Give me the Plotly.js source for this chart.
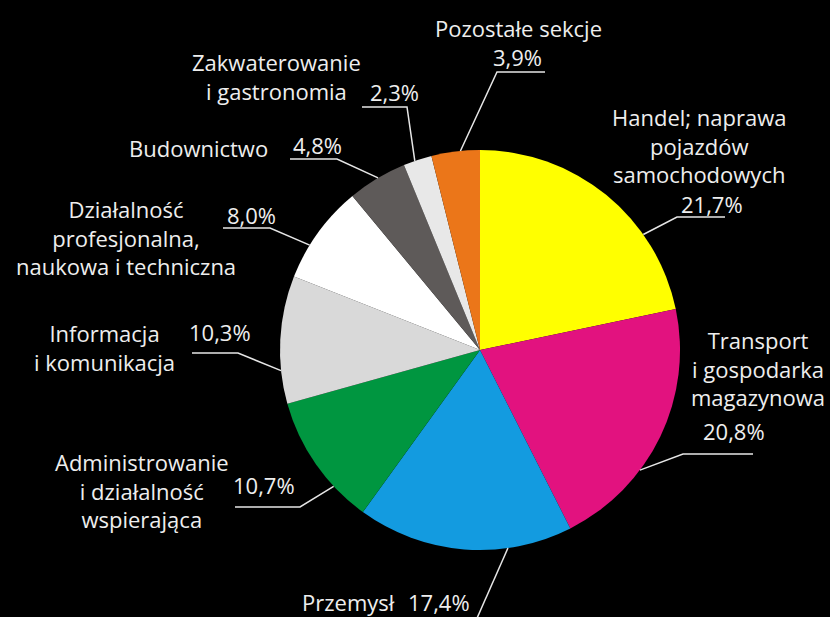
<!DOCTYPE html>
<html><head><meta charset="utf-8">
<script src="https://cdn.plot.ly/plotly-3.0.1.min.js"></script>
<style>html,body{margin:0;padding:0;background:#000;}#chart{width:830px;height:617px;}</style>
</head><body><div id="chart"></div>
<script>
// ---- data ----
const sectors = ["Handel; naprawa pojazdów samochodowych","Transport i gospodarka magazynowa","Przemysł","Administrowanie i działalność wspierająca","Informacja i komunikacja","Działalność profesjonalna, naukowa i techniczna","Budownictwo","Zakwaterowanie i gastronomia","Pozostałe sekcje"];
const labelLines = [
  ["Handel; naprawa","pojazdów","samochodowych"],
  ["Transport","i gospodarka","magazynowa"],
  ["Przemysł"],
  ["Administrowanie","i działalność","wspierająca"],
  ["Informacja","i komunikacja"],
  ["Działalność","profesjonalna,","naukowa i techniczna"],
  ["Budownictwo"],
  ["Zakwaterowanie","i gastronomia"],
  ["Pozostałe sekcje"]
];
const shares = [21.7, 20.8, 17.4, 10.7, 10.3, 8.0, 4.8, 2.3, 3.9];
const shareLabels = ["21,7%","20,8%","17,4%","10,7%","10,3%","8,0%","4,8%","2,3%","3,9%"];
const colors = ["#FFFF00","#E2127F","#139BE0","#009640","#D9D9D9","#FFFFFF","#5E5A59","#E8E8E8","#EB7619"];

// ---- layout helpers (pixels) ----
const W = 830, H = 617;
const CX = 480, CY = 350, R = 200;
const px = x => x / W, py = y => 1 - y / H;

// per-label layout: leader touch point (fraction of slice), elbow/end of line, name block centre, share position
const labelLayout = [
  {frac:0.70, elbow:[677,217], end:[725,217], name:[699,145], share:[712,204]},
  {frac:0.65, elbow:[683,454], end:[753,454], name:[758,368], share:[734,431]},
  {frac:0.30, elbow:null, end:[474,625], name:[348,602], share:[439,602]},
  {frac:0.29, elbow:[300,507], end:[235,507], name:[142,490], share:[264,485]},
  {frac:0.26, elbow:[238,353], end:[192,353], name:[104,348], share:[220,332]},
  {frac:0.35, elbow:[270,228], end:[223,228], name:[126,237], share:[251,215]},
  {frac:0.52, elbow:[337,159], end:[290,159], name:[198,148], share:[317,145]},
  {frac:0.40, elbow:[407,107], end:[362,107], name:[276,77], share:[394,92]},
  {frac:0.60, elbow:[497,72], end:[545,72], name:[518,28], share:[517,57]}
];

const font = {family:"Open Sans, sans-serif", size:22, color:"#EEEEEE"};
const total = shares.reduce((a,b)=>a+b,0);
const shapes = [], annotations = [];
let cum = 0;
shares.forEach((v,i)=>{
  const L = labelLayout[i];
  const ang = (cum + L.frac * v) / total * 2 * Math.PI;
  cum += v;
  const sx = CX + R * Math.sin(ang), sy = CY - R * Math.cos(ang);
  let path = `M ${px(sx)} ${py(sy)}`;
  if (L.elbow) path += ` L ${px(L.elbow[0])} ${py(L.elbow[1])}`;
  path += ` L ${px(L.end[0])} ${py(L.end[1])}`;
  shapes.push({type:"path", xref:"paper", yref:"paper", path, line:{color:"#E6E6E6", width:1.5}});
  annotations.push({xref:"paper", yref:"paper", x:px(L.name[0]), y:py(L.name[1]), xanchor:"center", yanchor:"middle",
    text:labelLines[i].join("<br>"), align:"center", showarrow:false, font, borderpad:0});
  annotations.push({xref:"paper", yref:"paper", x:px(L.share[0]), y:py(L.share[1]), xanchor:"center", yanchor:"middle",
    text:shareLabels[i], showarrow:false, font, borderpad:0});
});

const trace = {
  type:"pie", labels:sectors, values:shares, sort:false, direction:"clockwise", rotation:0,
  marker:{colors, line:{width:0}}, textinfo:"none", hoverinfo:"none",
  domain:{x:[px(CX-R), px(CX+R)], y:[py(CY+R), py(CY-R)]}, showlegend:false
};
const layout = {
  width:W, height:H, margin:{l:0,r:0,t:0,b:0}, paper_bgcolor:"#000", plot_bgcolor:"#000",
  showlegend:false, shapes, annotations
};
Plotly.newPlot("chart", [trace], layout, {staticPlot:true, displayModeBar:false});
</script></body></html>
